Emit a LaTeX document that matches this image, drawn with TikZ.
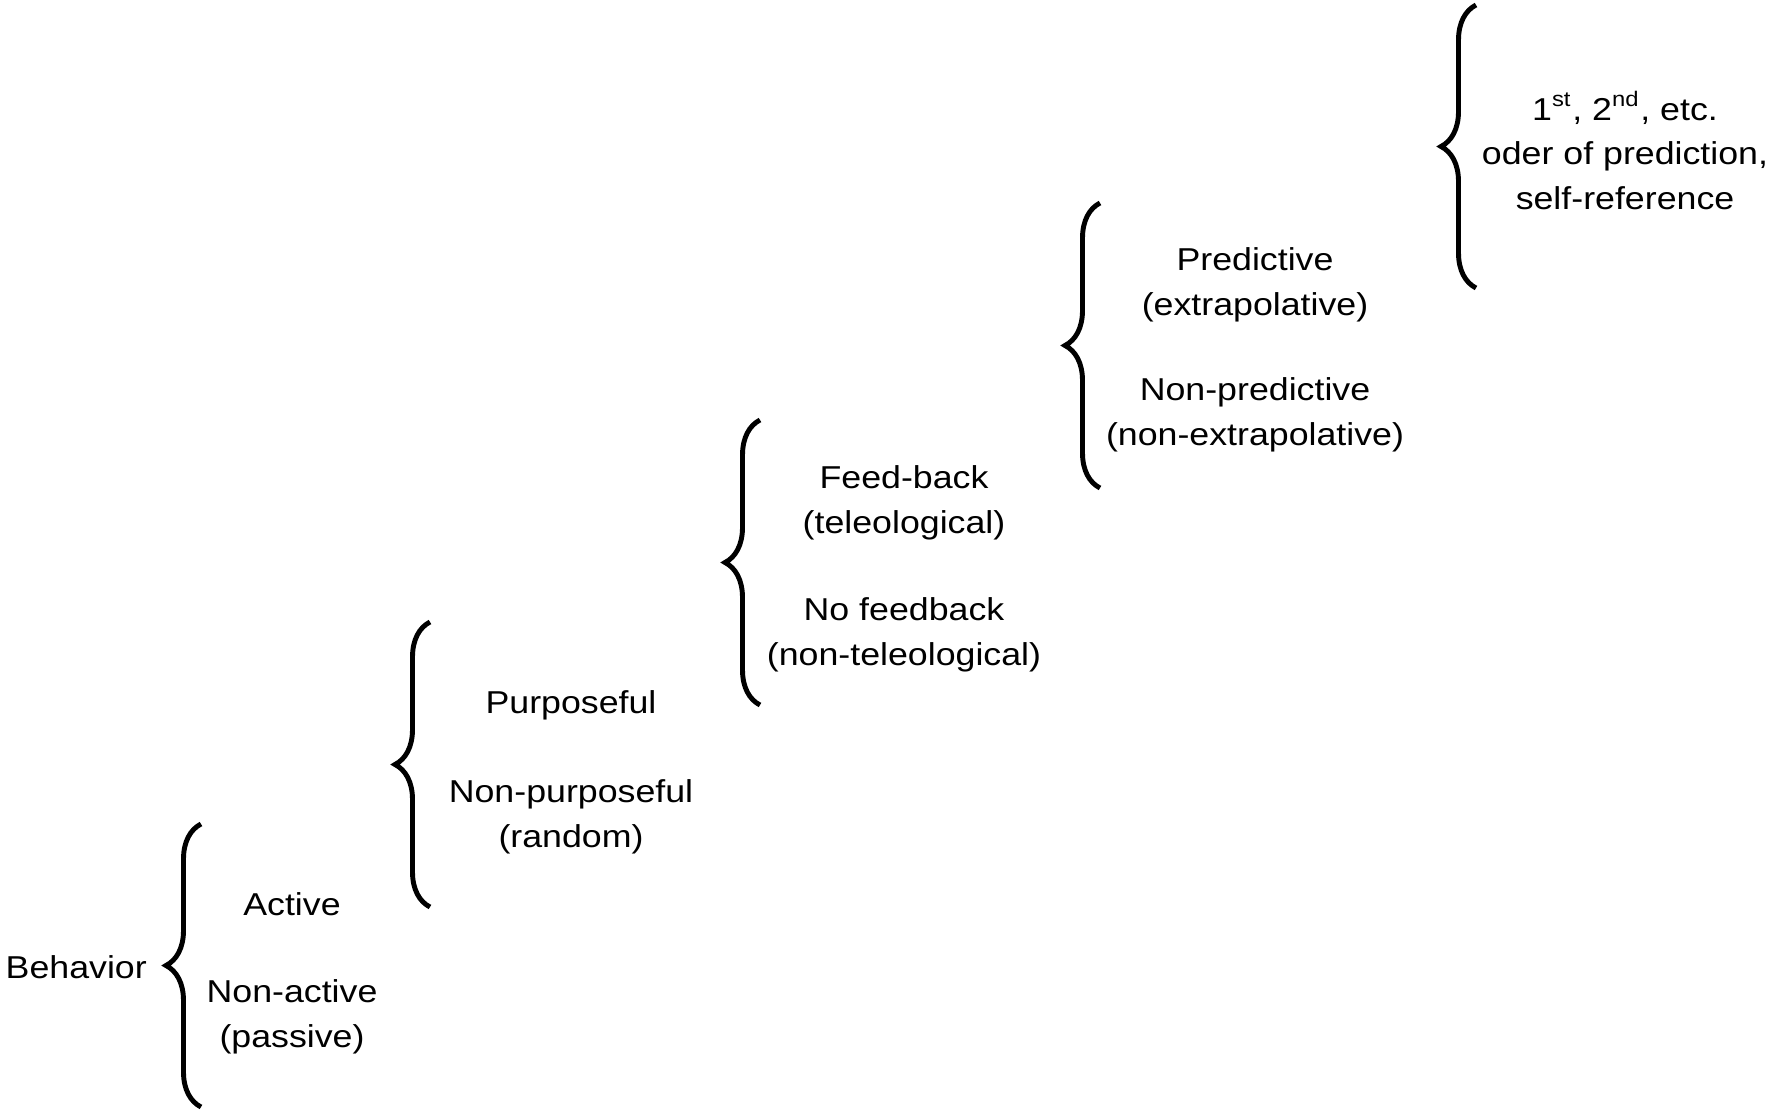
\documentclass[tikz,border=0pt]{standalone}
\usepackage{fontspec}
\setmainfont[FakeStretch=1.13]{Liberation Sans}
\usetikzlibrary{decorations.pathreplacing}

\begin{document}
\begin{tikzpicture}[lbl/.style={align=center,anchor=base,inner sep=0pt,font=\fontsize{9}{12.6}\selectfont},
		brc/.style={decorate,decoration={brace,amplitude=0.35cm},line width=1.4pt}]
		\useasboundingbox (0,0) rectangle (17.72,11.16);
		% the five braces, bottom end to top end
		\coordinate (b1a) at (2.01,0.09);   \coordinate (b1b) at (2.01,2.92);
		\coordinate (b2a) at (4.30,2.09);   \coordinate (b2b) at (4.30,4.94);
		\coordinate (b3a) at (7.60,4.11);   \coordinate (b3b) at (7.60,6.96);
		\coordinate (b4a) at (11.00,6.28);  \coordinate (b4b) at (11.00,9.13);
		\coordinate (b5a) at (14.76,8.28);  \coordinate (b5b) at (14.76,11.11);
		\draw[brc] (b1a) -- (b1b);
		\draw[brc] (b2a) -- (b2b);
		\draw[brc] (b3a) -- (b3b);
		\draw[brc] (b4a) -- (b4b);
		\draw[brc] (b5a) -- (b5b);
		% labels (base = baseline of the last line)
		\node[lbl,anchor=base west] (behav) at (0.05,1.38) {Behavior};
		\node[lbl] (act) at (2.92,2.01) {Active};
		\node[lbl] (nonact) at (2.92,0.69) {Non-active\\(passive)};
		\node[lbl] (purp) at (5.71,4.03) {Purposeful};
		\node[lbl] (nonpurp) at (5.71,2.69) {Non-purposeful\\(random)};
		\node[lbl] (feed) at (9.04,5.83) {Feed-back\\(teleological)};
		\node[lbl] (nofeed) at (9.04,4.51) {No feedback\\(non-teleological)};
		\node[lbl] (pred) at (12.55,8.01) {Predictive\\(extrapolative)};
		\node[lbl] (nonpred) at (12.55,6.71) {Non-predictive\\(non-extrapolative)};
		\node[lbl] (order) at (16.25,9.07) {1\textsuperscript{st}, 2\textsuperscript{nd}, etc.\\oder of prediction,\\self-reference};
\end{tikzpicture}
\end{document}
